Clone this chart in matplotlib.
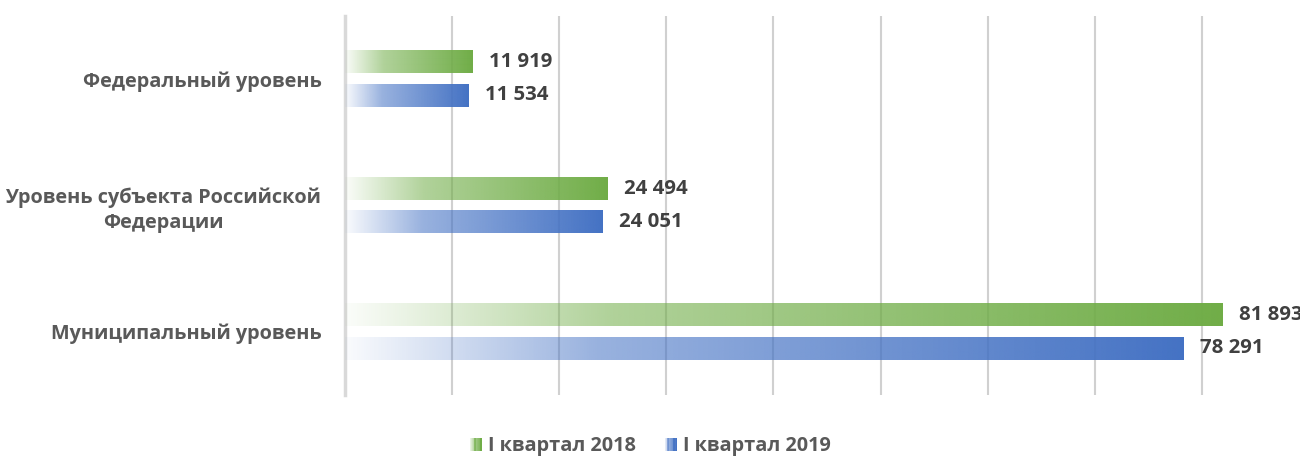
import matplotlib
matplotlib.use("Agg")
import matplotlib.pyplot as plt
import numpy as np
from matplotlib.colors import to_rgb
from matplotlib.patches import Rectangle
from matplotlib.legend_handler import HandlerBase

categories = ["Федеральный уровень", "Уровень субъекта Российской\nФедерации", "Муниципальный уровень"]
series_names = ["I квартал 2018", "I квартал 2019"]
values_2018 = [11919, 24494, 81893]
values_2019 = [11534, 24051, 78291]
value_labels_2018 = ["11 919", "24 494", "81 893"]
value_labels_2019 = ["11 534", "24 051", "78 291"]

colors = ["#70ad47", "#4472c4"]
FONT = "Open Sans"

def gradient_rgba(color, n=256, a0=0.03):
    r, g, b = to_rgb(color)
    t = np.linspace(0, 1, n)
    alpha = np.interp(t, [0, 0.3, 1.0], [a0, 0.55, 1.0])
    arr = np.zeros((1, n, 4))
    arr[..., 0] = r; arr[..., 1] = g; arr[..., 2] = b
    arr[..., 3] = alpha
    return arr

fig = plt.figure(figsize=(13, 4.58), dpi=100)
W, H = 1300, 458
x0_px, y_top, y_bot = 345, 15.5, 395
px_per_unit = 107.1 / 10000
xmax = 90000
ax = fig.add_axes([x0_px / W, 1 - y_bot / H, xmax * px_per_unit / W, (y_bot - y_top) / H])

y = np.arange(len(categories))
h = 0.178
off = 0.132
bars_a = ax.barh(y - off, values_2018, height=h, color="none", edgecolor="none")
bars_b = ax.barh(y + off, values_2019, height=h, color="none", edgecolor="none")

for bars, c in ((bars_a, colors[0]), (bars_b, colors[1])):
    grad = gradient_rgba(c)
    for b in bars:
        x, yy, w, hh = b.get_x(), b.get_y(), b.get_width(), b.get_height()
        ax.imshow(grad, extent=[x, x + w, yy + hh, yy], aspect="auto",
                  interpolation="bilinear", zorder=3)

ax.set_xlim(0, xmax)
ax.set_ylim(len(categories) - 0.5, -0.5)
ax.set_xticks(np.arange(0, xmax + 1, 10000))
ax.set_xticklabels([])
ax.tick_params(axis="both", length=0)
ax.grid(axis="x", color="#d0d0d0", linewidth=1.5, zorder=0)
ax.set_axisbelow(True)
for s in ["top", "right", "bottom"]:
    ax.spines[s].set_visible(False)
ax.spines["left"].set_color("#d9d9d9")
ax.spines["left"].set_linewidth(2.5)

ax.set_yticks(y)
ax.set_yticklabels(categories, fontsize=14.3, fontweight="bold", color="#595959",
                   family=FONT, ha="right", multialignment="center", linespacing=1.35)
ax.tick_params(axis="y", pad=17)

for bars, labels in ((bars_a, value_labels_2018), (bars_b, value_labels_2019)):
    for b, lab in zip(bars, labels):
        ax.annotate(lab, (b.get_width(), b.get_y() + b.get_height() / 2),
                    xytext=(12, 0), textcoords="offset points", va="center", ha="left",
                    fontsize=14.7, fontweight="bold", color="#404040", family=FONT,
                    annotation_clip=False)

class GradHandler(HandlerBase):
    def __init__(self, color):
        super().__init__()
        self.color = color
    def create_artists(self, legend, orig_handle, xdescent, ydescent, width, height, fontsize, trans):
        arts = []
        n = 14
        side_h = 13 * 0.72
        side_w = 12 * 0.72
        x_start = width - side_w
        grad = gradient_rgba(self.color, n, a0=0.15)[0]
        for i in range(n):
            r = Rectangle((x_start - xdescent + i * side_w / n, -ydescent + (height - side_h) / 2),
                          side_w / n + 0.2, side_h,
                          facecolor=grad[i], edgecolor="none", transform=trans)
            arts.append(r)
        return arts

h1 = Rectangle((0, 0), 1, 1)
h2 = Rectangle((0, 0), 1, 1)
leg = fig.legend([h1, h2], series_names, loc="center", bbox_to_anchor=(650 / W, 1 - 446 / H),
                 ncol=2, frameon=False, handler_map={h1: GradHandler(colors[0]), h2: GradHandler(colors[1])},
                 prop={"family": FONT, "weight": "bold", "size": 14.3}, labelcolor="#595959",
                 handlelength=0.65, handletextpad=0.3, columnspacing=1.4)

fig.savefig("out.png", dpi=100)
